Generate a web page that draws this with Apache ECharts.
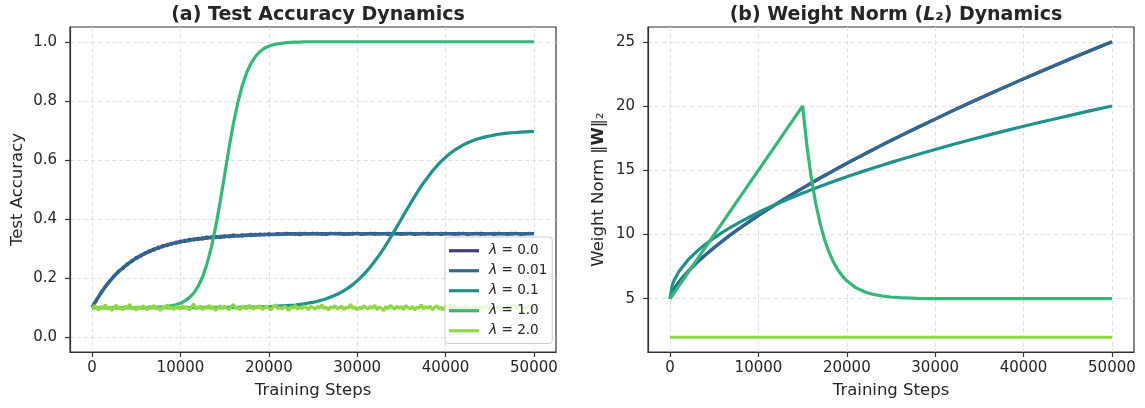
<!DOCTYPE html>
<html>
<head>
<meta charset="utf-8">
<script src="https://cdn.jsdelivr.net/npm/echarts@6/dist/echarts.min.js"></script>
<style>html,body{margin:0;padding:0;background:#fff;}#c{width:1145px;height:408px;}</style>
</head>
<body>
<div id="c"></div>
<script>
// ---- data ----
const lambdaLabels = ['0.0', '0.01', '0.1', '1.0', '2.0'];
const colors = ['#443983', '#31688e', '#21918c', '#35b779', '#8fd744'];
const xTicks = [0, 10000, 20000, 30000, 40000, 50000];
const accTicks = [0, 0.2, 0.4, 0.6, 0.8, 1.0];
const normTicks = [5, 10, 15, 20, 25];

// accuracy: sampled every 500 steps (0..50000)
const ACC_STEP = 500;
const accL0 = [0.102,0.125,0.151,0.170,0.191,0.206,0.224,0.233,0.249,0.256,
0.270,0.274,0.286,0.289,0.299,0.301,0.310,0.310,0.318,0.318,
0.325,0.324,0.331,0.329,0.335,0.332,0.339,0.336,0.341,0.338,
0.343,0.340,0.346,0.342,0.347,0.344,0.348,0.345,0.349,0.346,
0.350,0.347,0.351,0.348,0.352,0.349,0.351,0.347,0.352,0.349,
0.352,0.349,0.351,0.348,0.352,0.350,0.352,0.348,0.351,0.349,
0.352,0.348,0.351,0.350,0.352,0.349,0.351,0.348,0.352,0.350,
0.351,0.349,0.352,0.348,0.351,0.350,0.352,0.349,0.351,0.348,
0.352,0.350,0.351,0.349,0.352,0.348,0.351,0.350,0.352,0.349,
0.351,0.348,0.352,0.350,0.351,0.349,0.352,0.348,0.351,0.350,
0.351];
const accL001 = [0.100,0.128,0.148,0.173,0.188,0.209,0.220,0.237,0.245,0.260,
0.266,0.278,0.282,0.293,0.295,0.305,0.306,0.314,0.314,0.322,
0.321,0.328,0.326,0.333,0.331,0.337,0.334,0.340,0.337,0.342,
0.339,0.344,0.341,0.345,0.342,0.347,0.344,0.348,0.345,0.349,
0.346,0.349,0.347,0.350,0.348,0.351,0.348,0.352,0.349,0.351,
0.349,0.352,0.348,0.351,0.350,0.352,0.349,0.351,0.348,0.352,
0.350,0.351,0.349,0.352,0.348,0.351,0.350,0.352,0.349,0.351,
0.348,0.352,0.350,0.351,0.349,0.352,0.348,0.351,0.350,0.352,
0.349,0.351,0.348,0.352,0.350,0.351,0.349,0.352,0.348,0.351,
0.350,0.352,0.349,0.351,0.348,0.352,0.350,0.351,0.349,0.352,
0.350];
const accL01 = [0.100,0.100,0.100,0.100,0.100,0.100,0.100,0.100,0.100,0.100,
0.100,0.100,0.100,0.100,0.100,0.100,0.100,0.100,0.100,0.100,
0.100,0.100,0.100,0.100,0.100,0.101,0.101,0.101,0.101,0.101,
0.101,0.101,0.101,0.101,0.102,0.102,0.102,0.102,0.103,0.103,
0.103,0.104,0.105,0.106,0.107,0.108,0.109,0.111,0.113,0.116,
0.118,0.122,0.126,0.130,0.136,0.142,0.149,0.158,0.167,0.178,
0.191,0.205,0.221,0.238,0.258,0.278,0.300,0.324,0.349,0.374,
0.400,0.426,0.451,0.476,0.500,0.522,0.542,0.562,0.579,0.595,
0.609,0.622,0.633,0.642,0.651,0.658,0.664,0.670,0.674,0.678,
0.681,0.684,0.687,0.689,0.691,0.692,0.693,0.694,0.695,0.696,
0.697];
const accL1 = [0.100,0.100,0.100,0.100,0.100,0.100,0.100,0.100,0.100,0.100,
0.100,0.100,0.100,0.101,0.101,0.102,0.103,0.104,0.107,0.110,
0.115,0.123,0.134,0.149,0.172,0.204,0.248,0.305,0.376,0.459,
0.550,0.641,0.724,0.795,0.852,0.896,0.928,0.951,0.967,0.978,
0.985,0.990,0.993,0.995,0.997,0.998,0.999,0.999,1.000,1.000,
1.000,1.000,1.000,1.000,1.000,1.000,1.000,1.000,1.000,1.000,
1.000,1.000,1.000,1.000,1.000,1.000,1.000,1.000,1.000,1.000,
1.000,1.000,1.000,1.000,1.000,1.000,1.000,1.000,1.000,1.000,
1.000,1.000,1.000,1.000,1.000,1.000,1.000,1.000,1.000,1.000,
1.000,1.000,1.000,1.000,1.000,1.000,1.000,1.000,1.000,1.000,
1.000];
// lambda = 2.0 accuracy: sampled every 250 steps
const ACC_STEP_FINE = 250;
const accL2 = [0.096,0.107,0.101,0.091,0.105,0.098,0.110,0.094,0.103,0.090,
0.102,0.108,0.096,0.100,0.093,0.105,0.098,0.112,0.095,0.102,
0.092,0.104,0.097,0.107,0.100,0.093,0.105,0.098,0.108,0.095,
0.100,0.090,0.104,0.098,0.110,0.096,0.102,0.093,0.105,0.100,
0.095,0.107,0.098,0.104,0.092,0.102,0.113,0.096,0.100,0.105,
0.093,0.102,0.098,0.108,0.095,0.104,0.090,0.100,0.107,0.096,
0.105,0.098,0.093,0.104,0.111,0.096,0.102,0.092,0.105,0.100,
0.096,0.108,0.102,0.095,0.104,0.098,0.107,0.093,0.100,0.105,
0.098,0.092,0.104,0.110,0.096,0.102,0.095,0.105,0.100,0.090,
0.104,0.098,0.108,0.095,0.102,0.096,0.107,0.100,0.093,0.105,
0.100,0.095,0.105,0.098,0.110,0.096,0.102,0.092,0.104,0.098,
0.107,0.095,0.100,0.105,0.093,0.102,0.098,0.112,0.096,0.104,
0.092,0.102,0.096,0.107,0.100,0.095,0.105,0.098,0.108,0.093,
0.102,0.098,0.090,0.104,0.096,0.108,0.100,0.095,0.105,0.098,
0.104,0.093,0.107,0.100,0.096,0.105,0.092,0.102,0.098,0.110,
0.095,0.104,0.098,0.105,0.093,0.100,0.107,0.096,0.102,0.092,
0.105,0.098,0.110,0.095,0.102,0.096,0.104,0.100,0.093,0.107,
0.098,0.102,0.095,0.105,0.100,0.090,0.104,0.096,0.108,0.100,
0.093,0.105,0.098,0.102,0.095,0.107,0.100,0.096,0.104,0.092,
0.102,0.110,0.096,0.100,0.105,0.095,0.102,0.098,0.107,0.096,
0.102];

// weight norm
const normSteps = [0,250,500,1000,2000,3000,4000,5000,6000,7000,8000,9000,10000,11000,12000,13000,14000,
15000,15500,16000,16500,17000,17500,18000,18500,19000,19500,20000,
21000,22000,23000,24000,25000,26000,28000,30000,32000,34000,36000,38000,40000,42000,44000,46000,48000,50000];
const normL001 = [5.00,5.49,5.80,6.29,7.10,7.79,8.41,8.99,9.53,10.05,10.54,11.02,11.48,11.93,12.36,12.79,13.20,
13.61,13.81,14.01,14.20,14.40,14.59,14.78,14.97,15.16,15.35,15.53,
15.90,16.26,16.61,16.97,17.31,17.65,18.33,18.98,19.64,20.27,20.89,21.51,22.11,22.70,23.29,23.87,24.44,25.00];
const normL0 = [5.00,5.49,5.80,6.29,7.10,7.79,8.41,8.99,9.53,10.05,10.54,11.02,11.48,11.93,12.36,12.79,13.20,
13.61,13.81,14.01,14.20,14.40,14.59,14.78,14.97,15.16,15.35,15.53,
15.90,16.26,16.61,16.97,17.31,17.65,18.33,18.98,19.64,20.27,20.89,21.51,22.11,22.70,23.29,23.87,24.44,25.00];
const normL01 = [5.00,6.06,6.50,7.12,8.00,8.67,9.24,9.74,10.20,10.61,11.00,11.36,11.71,12.04,12.35,12.65,12.94,
13.22,13.35,13.49,13.62,13.75,13.87,14.00,14.12,14.25,14.37,14.49,
14.72,14.95,15.17,15.39,15.61,15.82,16.22,16.62,17.00,17.37,17.73,18.08,18.42,18.75,19.07,19.39,19.70,20.00];
const normL1 = [5.00,5.25,5.50,6.00,7.00,8.00,9.00,10.00,11.00,12.00,13.00,14.00,15.00,16.00,17.00,18.00,19.00,
20.00,16.82,14.32,12.35,10.79,9.56,8.60,7.83,7.23,6.76,6.39,
5.86,5.54,5.33,5.21,5.13,5.08,5.03,5.01,5.00,5.00,5.00,5.00,5.00,5.00,5.00,5.00,5.00,5.00];
const normL2 = [2.00,2.00,2.00,2.00,2.00,2.00,2.00,2.00,2.00,2.00,2.00,2.00,2.00,2.00,2.00,2.00,2.00,
2.00,2.00,2.00,2.00,2.00,2.00,2.00,2.00,2.00,2.00,2.00,
2.00,2.00,2.00,2.00,2.00,2.00,2.00,2.00,2.00,2.00,2.00,2.00,2.00,2.00,2.00,2.00,2.00,2.00];

// ---- chart ----
const FONT = 'DejaVu Sans';
const TXT = '#262626';
const names = lambdaLabels.map(l => 'λ=' + l);
const accSeries = [accL0, accL001, accL01, accL1, accL2];
const accStepSize = [ACC_STEP, ACC_STEP, ACC_STEP, ACC_STEP, ACC_STEP_FINE];
const normSeries = [normL0, normL001, normL01, normL1, normL2];

function xAxisCfg(idx) {
  return {
    type: 'value', gridIndex: idx, min: -2500, max: 52500,
    name: 'Training Steps', nameLocation: 'middle', nameGap: 30,
    nameTextStyle: { fontFamily: FONT, fontSize: 16.5, color: TXT },
    axisLine: { show: true, onZero: false, lineStyle: { color: '#333', width: 1.2 } },
    axisTick: { show: true, length: 5, customValues: xTicks, lineStyle: { color: '#333', width: 1.2 } },
    axisLabel: { customValues: xTicks, margin: 9, fontFamily: FONT, fontSize: 15, color: TXT, formatter: v => String(v) },
    splitLine: { show: true, lineStyle: { color: '#dcdcdc', type: [4, 3], width: 0.9 } }
  };
}
function yAxisCfg(idx, min, max, ticks, name, fmt, gap, rich) {
  return {
    type: 'value', gridIndex: idx, min: min, max: max,
    name: name, nameLocation: 'middle', nameGap: gap,
    nameTextStyle: { fontFamily: FONT, fontSize: 16.5, color: TXT, rich: rich },
    axisLine: { show: true, onZero: false, lineStyle: { color: '#333', width: 1.2 } },
    axisTick: { show: true, length: 5, customValues: ticks, lineStyle: { color: '#333', width: 1.2 } },
    axisLabel: { customValues: ticks, margin: 13, fontFamily: FONT, fontSize: 15, color: TXT, formatter: fmt },
    splitLine: { show: true, lineStyle: { color: '#dcdcdc', type: [4, 3], width: 0.9 } }
  };
}

const series = [];
accSeries.forEach((arr, k) => {
  series.push({
    name: names[k], type: 'line', xAxisIndex: 0, yAxisIndex: 0,
    data: arr.map((v, i) => [i * accStepSize[k], v]),
    showSymbol: false, symbol: 'none', animation: false,
    lineStyle: { color: colors[k], width: 3.2 }, itemStyle: { color: colors[k] }
  });
});
normSeries.forEach((arr, k) => {
  series.push({
    name: names[k], type: 'line', xAxisIndex: 1, yAxisIndex: 1,
    data: arr.map((v, i) => [normSteps[i], v]),
    showSymbol: false, symbol: 'none', animation: false,
    lineStyle: { color: colors[k], width: 3.2 }, itemStyle: { color: colors[k] }
  });
});

const gridBase = { top: 27, height: 325, width: 486, show: true, borderColor: '#333', borderWidth: 1.2, backgroundColor: 'transparent' };

const option = {
  animation: false,
  backgroundColor: '#fff',
  title: [
    { text: '(a) Test Accuracy Dynamics', left: 313, top: 1, textAlign: 'center',
      textStyle: { fontFamily: FONT, fontSize: 19, fontWeight: 'bold', color: TXT } },
    { text: '{b|(b) Weight Norm (}{i|L}{n|₂}{b|) Dynamics}', left: 891, top: 1, textAlign: 'center',
      textStyle: { fontFamily: FONT, fontSize: 19, color: TXT,
        rich: {
          b: { fontFamily: FONT, fontSize: 19, fontWeight: 'bold', color: TXT },
          i: { fontFamily: FONT, fontSize: 19, fontStyle: 'italic', color: TXT },
          n: { fontFamily: FONT, fontSize: 19, color: TXT }
        } } }
  ],
  grid: [
    Object.assign({ left: 70 }, gridBase),
    Object.assign({ left: 648 }, gridBase)
  ],
  xAxis: [xAxisCfg(0), xAxisCfg(1)],
  yAxis: [
    yAxisCfg(0, -0.05, 1.05, accTicks, 'Test Accuracy', v => v.toFixed(1), 44),
    yAxisCfg(1, 0.85, 26.15, normTicks, '{r|Weight Norm ‖}{w|W}{r|‖₂}', v => String(v), 41,
      { r: { fontFamily: FONT, fontSize: 16.5, color: TXT }, w: { fontFamily: FONT, fontSize: 16.5, fontWeight: 'bold', color: TXT } })
  ],
  legend: {
    orient: 'vertical', left: 445, top: 237,
    data: names,
    icon: 'rect', itemWidth: 30, itemHeight: 3.2, itemGap: 4.5,
    padding: [6, 5, 5, 4],
    backgroundColor: 'rgba(255,255,255,0.8)', borderColor: '#cccccc', borderWidth: 1, borderRadius: 3,
    textStyle: { fontFamily: FONT, fontSize: 13.5, color: TXT, lineHeight: 15.5,
      rich: { i: { fontFamily: FONT, fontSize: 14, fontStyle: 'italic', color: TXT, padding: [0, 0, 0, 5] }, t: { fontFamily: FONT, fontSize: 13.5, color: TXT } } },
    formatter: n => '{i|λ}{t| = ' + n.slice(2) + '}'
  },
  series: series
};

const chart = echarts.init(document.getElementById('c'), null, { renderer: 'canvas' });
chart.setOption(option);
</script>
</body>
</html>
